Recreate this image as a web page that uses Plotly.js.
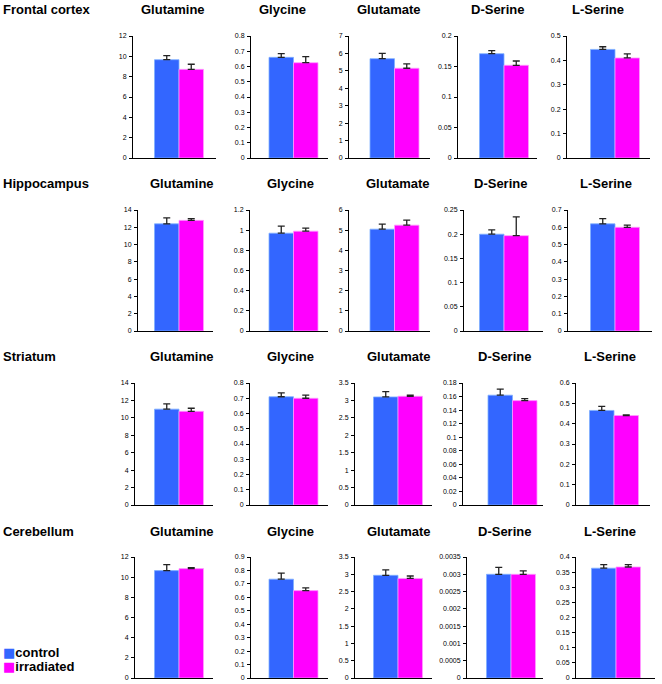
<!DOCTYPE html>
<html><head><meta charset="utf-8">
<script src="https://cdn.plot.ly/plotly-3.0.1.min.js"></script>
<style>html,body{margin:0;padding:0;background:#fff}</style>
</head><body><div id="chart" style="width:662px;height:684px"></div>
<script>
// ---------- data ----------
const regions = ['Frontal cortex', 'Hippocampus', 'Striatum', 'Cerebellum'];
const analytes = ['Glutamine', 'Glycine', 'Glutamate', 'D-Serine', 'L-Serine'];
const groups = ['control', 'irradiated'];

// order of each array follows `analytes`
const controlFrontal      = [9.67, 0.66, 5.70, 0.171, 0.445];
const controlFrontalErr   = [0.40, 0.025, 0.30, 0.005, 0.011];
const irradFrontal        = [8.72, 0.625, 5.15, 0.152, 0.410];
const irradFrontalErr     = [0.50, 0.040, 0.25, 0.007, 0.017];

const controlHippo        = [12.4, 0.97, 5.05, 0.200, 0.620];
const controlHippoErr     = [0.70, 0.07, 0.25, 0.009, 0.030];
const irradHippo          = [12.8, 0.99, 5.25, 0.197, 0.600];
const irradHippoErr       = [0.20, 0.03, 0.25, 0.039, 0.012];

const controlStriatum     = [11.0, 0.71, 3.10, 0.162, 0.465];
const controlStriatumErr  = [0.60, 0.025, 0.15, 0.009, 0.020];
const irradStriatum       = [10.75, 0.70, 3.12, 0.154, 0.440];
const irradStriatumErr    = [0.35, 0.020, 0.03, 0.003, 0.003];

const controlCereb        = [10.65, 0.735, 2.97, 0.00300, 0.363];
const controlCerebErr     = [0.60, 0.045, 0.16, 0.00020, 0.012];
const irradCereb          = [10.85, 0.650, 2.88, 0.00300, 0.367];
const irradCerebErr       = [0.10, 0.020, 0.07, 0.00010, 0.008];

// axis scales (tick labels come from these)
const yMax  = [[12, 0.8, 7, 0.2, 0.5], [14, 1.2, 6, 0.25, 0.7], [14, 0.8, 3.5, 0.18, 0.6], [12, 0.9, 3.5, 0.0035, 0.4]];
const yStep = [[2, 0.1, 1, 0.05, 0.1], [2, 0.2, 1, 0.05, 0.1], [2, 0.1, 0.5, 0.02, 0.1], [2, 0.1, 0.5, 0.0005, 0.05]];

// ---------- layout geometry (pixels) ----------
const W = 662, H = 684;
const axLeft   = [[133, 251, 349, 458, 567], [138, 250, 349, 464, 568], [135, 250, 355, 463, 576], [135, 251, 355, 467, 576]];
const axRight  = [[216, 328, 430, 537, 650], [213, 328, 430, 543, 652], [213, 328, 432, 543, 650], [213, 328, 432, 543, 655]];
const barMid   = [[179, 293.5, 394.5, 504, 615], [179, 293.5, 394.5, 504, 615], [179, 293.5, 398, 512.5, 614], [179, 293.5, 398, 511, 616]];
const groupPx  = 49;
const rowTop   = [36, 210, 383, 557];
const rowBot   = [158, 331, 505, 678];
const titleX   = [[173, 282, 389, 498, 598], [182, 290, 398, 500, 606], [182, 290, 399, 504, 610], [182, 290, 399, 504, 610]];
const titleY   = [10, 183, 357, 531];

const controlRows = [controlFrontal, controlHippo, controlStriatum, controlCereb];
const controlErrRows = [controlFrontalErr, controlHippoErr, controlStriatumErr, controlCerebErr];
const irradRows = [irradFrontal, irradHippo, irradStriatum, irradCereb];
const irradErrRows = [irradFrontalErr, irradHippoErr, irradStriatumErr, irradCerebErr];

const BLUE = '#3366ff', MAG = '#ff00ff';
const bargap = 0.5;               // group occupies 0.5 category units
const pxPerUnit = groupPx / (1 - bargap);

const data = [];
const layout = {
  width: W, height: H,
  margin: {l: 0, r: 0, t: 0, b: 0},
  paper_bgcolor: '#fff', plot_bgcolor: '#fff',
  showlegend: false,
  barmode: 'group', bargap: bargap, bargroupgap: 0,
  font: {family: 'Liberation Sans, Arial, sans-serif', color: '#000'},
  annotations: []
};

let k = 0;
for (let r = 0; r < 4; r++) {
  for (let c = 0; c < 5; c++) {
    k++;
    const xs = k === 1 ? 'x' : 'x' + k;
    const ys = k === 1 ? 'y' : 'y' + k;
    const cat = [analytes[c]];
    const errStyle = {color: '#222', thickness: 1.3, width: 3.5};
    data.push({
      type: 'bar', name: groups[0], x: cat, y: [controlRows[r][c]],
      xaxis: xs, yaxis: ys,
      marker: {color: BLUE, line: {color: '#7fb0ff', width: 0.8}},
      error_y: Object.assign({type: 'data', array: [controlErrRows[r][c]], arrayminus: [0], symmetric: false}, errStyle),
      hoverinfo: 'none'
    });
    data.push({
      type: 'bar', name: groups[1], x: cat, y: [irradRows[r][c]],
      xaxis: xs, yaxis: ys,
      marker: {color: MAG, line: {color: '#ff9cff', width: 0.8}},
      error_y: Object.assign({type: 'data', array: [irradErrRows[r][c]], arrayminus: [0], symmetric: false}, errStyle),
      hoverinfo: 'none'
    });
    const L = axLeft[r][c], R = axRight[r][c], M = barMid[r][c];
    const xname = k === 1 ? 'xaxis' : 'xaxis' + k;
    const yname = k === 1 ? 'yaxis' : 'yaxis' + k;
    layout[xname] = {
      domain: [L / W, R / W],
      anchor: ys,
      type: 'category',
      range: [(L - M) / pxPerUnit, (R - M) / pxPerUnit],
      showline: true, linecolor: '#000', linewidth: 1,
      showticklabels: false, ticks: '', showgrid: false, zeroline: false,
      fixedrange: true
    };
    layout[yname] = {
      domain: [1 - rowBot[r] / H, 1 - rowTop[r] / H],
      anchor: xs,
      range: [0, yMax[r][c]],
      tick0: 0, dtick: yStep[r][c],
      tickformat: '~g',
      showline: true, linecolor: '#000', linewidth: 1,
      ticks: 'outside', ticklen: 3, tickwidth: 1, tickcolor: '#000',
      tickfont: {size: 7, color: '#000', family: 'Liberation Sans, Arial, sans-serif'},
      ticklabelstandoff: 1,
      showgrid: false, zeroline: false, fixedrange: true
    };
    layout.annotations.push({
      text: analytes[c], xref: 'paper', yref: 'paper',
      x: titleX[r][c] / W, y: 1 - titleY[r] / H,
      xanchor: 'center', yanchor: 'middle', showarrow: false,
      font: {size: 13, family: 'Liberation Sans, Arial, sans-serif', color: '#000', weight: 700}
    });
  }
  layout.annotations.push({
    text: regions[r], xref: 'paper', yref: 'paper',
    x: 1 / W, y: 1 - titleY[r] / H,
    xanchor: 'left', yanchor: 'middle', showarrow: false,
    font: {size: 13, family: 'Liberation Sans, Arial, sans-serif', color: '#000', weight: 700}
  });
}

// legend (key)
const legendColors = [BLUE, MAG];
const legendY = [652, 666];
for (let i = 0; i < 2; i++) {
  layout.annotations.push({
    text: '<span style="color:' + legendColors[i] + ';font-family:DejaVu Sans">■</span>' + groups[i],
    xref: 'paper', yref: 'paper', x: 1 / W, y: 1 - legendY[i] / H,
    xanchor: 'left', yanchor: 'middle', showarrow: false,
    font: {size: 13, family: 'Liberation Sans, Arial, sans-serif', color: '#000', weight: 700}
  });
}

Plotly.newPlot('chart', data, layout, {staticPlot: true, displayModeBar: false});
</script>
</body></html>
